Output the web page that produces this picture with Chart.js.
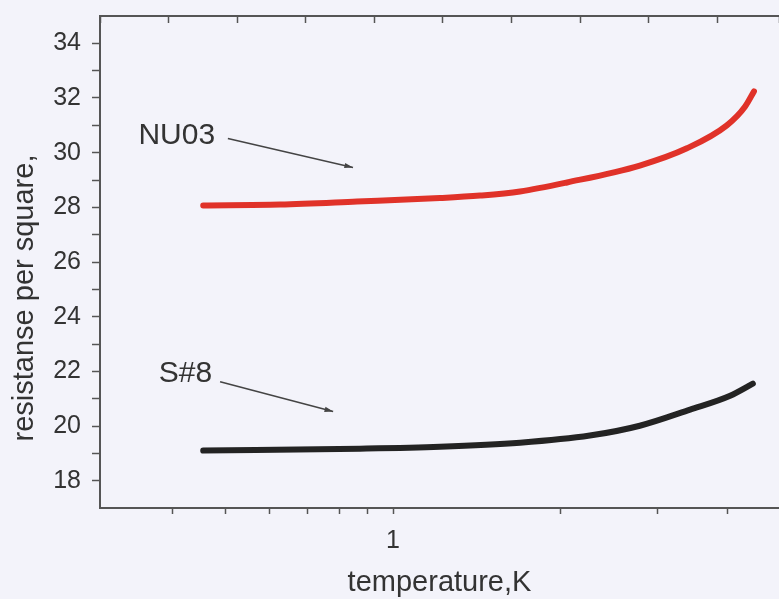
<!DOCTYPE html>
<html>
<head>
<meta charset="utf-8">
<script src="https://cdn.jsdelivr.net/npm/chart.js@4/dist/chart.umd.min.js"></script>
<style>
  html, body { margin: 0; padding: 0; background: #f3f3fa; }
  #wrap { width: 779px; height: 599px; }
</style>
</head>
<body>
<div id="wrap"><canvas id="myChart" width="779" height="599"></canvas></div>
<script>
// temperature (K) and resistance per square
let tempNU03 = [0.455, 0.626, 0.861, 1.215, 1.435, 1.694, 2.059, 2.784, 3.385, 3.995, 4.31, 4.47];
let resNU03 = [28.07, 28.10, 28.21, 28.34, 28.43, 28.58, 28.91, 29.53, 30.16, 31.0, 31.69, 32.24];
let tempS8 = [0.455, 0.872, 1.215, 1.694, 2.263, 2.784, 3.43, 4.05, 4.45];
let resS8 = [19.10, 19.17, 19.24, 19.39, 19.65, 20.01, 20.60, 21.11, 21.55];

let xTicks = [0.4, 0.5, 0.6, 0.7, 0.8, 0.9, 1, 2, 3, 4];
let xLabels = [1];
let yTicks = [18, 19, 20, 21, 22, 23, 24, 25, 26, 27, 28, 29, 30, 31, 32, 33, 34];
let yLabels = [18, 20, 22, 24, 26, 28, 30, 32, 34];

let font = "'Liberation Sans', Arial, sans-serif";
let textColor = '#333';
let axisColor = '#555';

let notes = [
  { text: 'NU03', at: [0.478, 30.63], from: [0.504, 30.52], to: [0.847, 29.46] },
  { text: 'S#8', at: [0.472, 21.92], from: [0.488, 21.62], to: [0.780, 20.53] }
];

let toPoints = (xs, ys) => xs.map((x, i) => ({ x: x, y: ys[i] }));

// labels with arrows + axis titles
const notesPlugin = {
  id: 'notes',
  afterDraw(chart) {
    const { ctx, chartArea } = chart;
    const x = chart.scales.x, y = chart.scales.y;
    ctx.save();
    ctx.fillStyle = textColor;
    ctx.font = '30px ' + font;
    ctx.textAlign = 'right';
    ctx.textBaseline = 'middle';
    notes.forEach(n => {
      ctx.fillText(n.text, x.getPixelForValue(n.at[0]), y.getPixelForValue(n.at[1]));
      let x1 = x.getPixelForValue(n.from[0]), y1 = y.getPixelForValue(n.from[1]);
      let x2 = x.getPixelForValue(n.to[0]), y2 = y.getPixelForValue(n.to[1]);
      ctx.strokeStyle = '#444';
      ctx.fillStyle = '#444';
      ctx.lineWidth = 1.5;
      ctx.beginPath();
      ctx.moveTo(x1, y1);
      ctx.lineTo(x2, y2);
      ctx.stroke();
      let a = Math.atan2(y2 - y1, x2 - x1);
      ctx.beginPath();
      ctx.moveTo(x2, y2);
      ctx.lineTo(x2 - 9 * Math.cos(a - 0.3), y2 - 9 * Math.sin(a - 0.3));
      ctx.lineTo(x2 - 9 * Math.cos(a + 0.3), y2 - 9 * Math.sin(a + 0.3));
      ctx.closePath();
      ctx.fill();
      ctx.fillStyle = textColor;
    });
    ctx.font = '29px ' + font;
    ctx.textAlign = 'center';
    ctx.fillText('temperature,K', (chartArea.left + chartArea.right) / 2, 583);
    ctx.translate(25, (chartArea.top + chartArea.bottom) / 2 + 36);
    ctx.rotate(-Math.PI / 2);
    ctx.fillText('resistanse per square,', 0, 0);
    ctx.restore();
  }
};

let ctx = document.getElementById('myChart').getContext('2d');

let myChart = new Chart(ctx, {
  type: 'scatter',
  data: {
    datasets: [{
      label: 'NU03',
      data: toPoints(tempNU03, resNU03),
      borderColor: '#e03229',
      borderWidth: 6,
      showLine: true,
      cubicInterpolationMode: 'monotone',
      borderCapStyle: 'round',
      pointRadius: 0
    }, {
      label: 'S#8',
      data: toPoints(tempS8, resS8),
      borderColor: '#232323',
      borderWidth: 6,
      showLine: true,
      cubicInterpolationMode: 'monotone',
      borderCapStyle: 'round',
      pointRadius: 0
    }]
  },
  options: {
    responsive: false,
    animation: false,
    layout: { padding: 0 },
    plugins: {
      legend: { display: false },
      tooltip: { enabled: false }
    },
    scales: {
      x: {
        type: 'logarithmic',
        position: 'bottom',
        min: 0.2965,
        max: 4.96,
        afterFit: (s) => { s.height = 91; s.paddingLeft = 0; s.paddingRight = 0; },
        afterBuildTicks: (s) => { s.ticks = xTicks.map(v => ({ value: v })); },
        ticks: {
          autoSkip: false,
          maxRotation: 0,
          padding: 12,
          color: textColor,
          font: { family: font, size: 25 },
          callback: (v) => xLabels.includes(v) ? String(v) : ''
        },
        grid: { drawOnChartArea: false, tickLength: 6, tickColor: axisColor, tickWidth: 1.5 },
        border: { color: axisColor, width: 2 }
      },
      x2: {
        type: 'linear',
        position: 'top',
        min: 0,
        max: 9.9,
        afterFit: (s) => { s.height = 16; s.paddingLeft = 0; s.paddingRight = 0; },
        ticks: { stepSize: 1, callback: () => '' },
        grid: { drawOnChartArea: false, tickLength: -7, tickColor: axisColor, tickWidth: 1.5 },
        border: { color: axisColor, width: 2 }
      },
      y: {
        min: 17,
        max: 35,
        afterFit: (s) => { s.width = 100; s.paddingTop = 0; s.paddingBottom = 0; },
        afterBuildTicks: (s) => { s.ticks = yTicks.map(v => ({ value: v })); },
        ticks: {
          autoSkip: false,
          padding: 11,
          color: textColor,
          font: { family: font, size: 25 },
          callback: (v) => yLabels.includes(v) ? String(v) : ''
        },
        grid: { drawOnChartArea: false, tickLength: 8, tickColor: axisColor, tickWidth: 1.5 },
        border: { color: axisColor, width: 2 }
      }
    }
  },
  plugins: [notesPlugin]
});
</script>
</body>
</html>
